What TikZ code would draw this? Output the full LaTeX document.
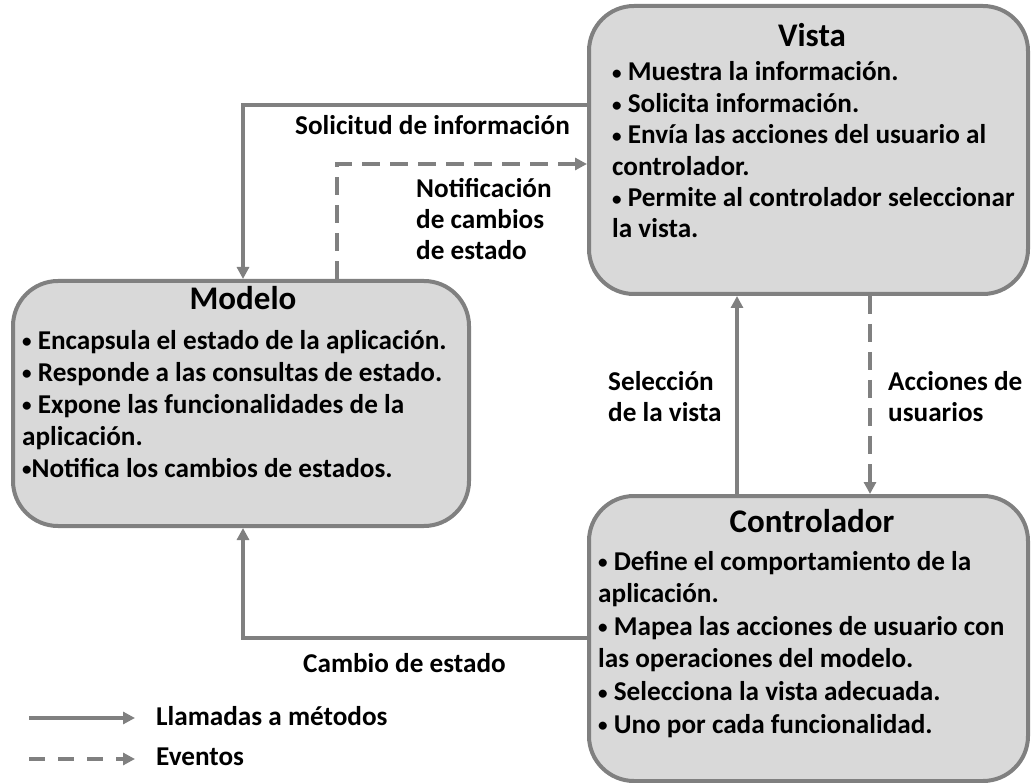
\documentclass[tikz,border=0pt]{standalone}
\usepackage{fontspec}
\setmainfont{Carlito}
\usepackage{graphicx}
\usepackage{tikz}
\usetikzlibrary{arrows.meta}
\usepackage{xcolor}
\definecolor{boxfill}{HTML}{D9D9D9}
\definecolor{linegray}{HTML}{808080}
\newcommand{\bodyfont}{\fontsize{27.2}{31.4}\selectfont\bfseries}
\newcommand{\titlefont}{\fontsize{33}{40}\selectfont\bfseries}
\newcommand{\dotmark}{\raisebox{0.05em}{\scalebox{0.7}{•}}}

\begin{document}
\begin{tikzpicture}[x=1pt,y=-1pt]

\tikzset{box/.style = {shape=rectangle,draw=linegray,fill=boxfill,line width=4pt,rounded corners=45pt}}
\tikzset{title/.style = {inner sep=0pt,anchor=base,font=\titlefont}}
% multi-line texts are placed by the baseline of their last line
\tikzset{body/.style = {inner sep=0pt,anchor=base west,align=left,font=\bodyfont}}
\tikzset{label/.style = {inner sep=0pt,anchor=base west,align=left,font=\bodyfont}}
\tikzset{call/.style = {draw=linegray,line width=3.5pt,-{Triangle[length=12pt,width=12pt]}}}
\tikzset{event/.style = {call,dash pattern=on 18pt off 10pt}}

\useasboundingbox (0,0) rectangle (1031,783);

\node[box,minimum width=439pt,minimum height=288pt] (vista) at (808.5,150) {};
\node[box,minimum width=456pt,minimum height=245pt] (modelo) at (241,403.5) {};
\node[box,minimum width=439pt,minimum height=285pt] (controlador) at (808.5,638.5) {};

\node[title] (vistatitle) at (812,47) {Vista};
\node[body] (vistatext) at (612,238) {\dotmark{} Muestra la información.\\
  \dotmark{} Solicita información.\\
  \dotmark{} Envía las acciones del usuario al\\
  controlador.\\
  \dotmark{} Permite al controlador seleccionar\\
  la vista.};

\node[title] (modelotitle) at (243,310) {Modelo};
\node[body,font=\fontsize{27.2}{32}\selectfont\bfseries] (modelotext) at (22,477) {\dotmark{} Encapsula el estado de la aplicación.\\
  \dotmark{} Responde a las consultas de estado.\\
  \dotmark{} Expone las funcionalidades de la\\
  aplicación.\\
  \dotmark{}Notifica los cambios de estados.};

\node[title] (controladortitle) at (812,532) {Controlador};
\node[body,font=\fontsize{27.2}{32.6}\selectfont\bfseries] (controladortext) at (598,733) {\dotmark{} Define el comportamiento de la\\
  aplicación.\\
  \dotmark{} Mapea las acciones de usuario con\\
  las operaciones del modelo.\\
  \dotmark{} Selecciona la vista adecuada.\\
  \dotmark{} Uno por cada funcionalidad.};

\node[label] (solicitud) at (295,135) {Solicitud de información};
\node[label] (notificacion) at (416,260) {Notificación\\de cambios\\de estado};
\node[label] (seleccion) at (608,422) {Selección\\de la vista};
\node[label] (acciones) at (888,422) {Acciones de\\usuarios};
\node[label] (cambio) at (303,672) {Cambio de estado};

%edges
\coordinate (solbend) at (243,105);
\coordinate (notbend) at (337,164);
\coordinate (cambend) at (243,638);
\draw[call] (vista.west |- solbend) -- (solbend) -- (modelo.north -| solbend);
\draw[event] (modelo.north -| notbend) -- (notbend) -- (vista.west |- notbend);
\draw[call] (controlador.north -| 737,0) -- (vista.south -| 737,0);
\draw[event] (vista.south -| 870,0) -- (controlador.north -| 870,0);
\draw[call] (controlador.west |- cambend) -- (cambend) -- (modelo.south -| cambend);

%legend
\coordinate (callstart) at (29,718);
\coordinate (callend) at (135,718);
\coordinate (eventstart) at (29,759);
\coordinate (eventend) at (135,759);
\draw[call] (callstart) -- (callend);
\draw[event,dash pattern=on 16pt off 13pt] (eventstart) -- (eventend);
\node[label] (calllegend) at (156,725) {Llamadas a métodos};
\node[label] (eventlegend) at (156,765) {Eventos};
\end{tikzpicture}
\end{document}
